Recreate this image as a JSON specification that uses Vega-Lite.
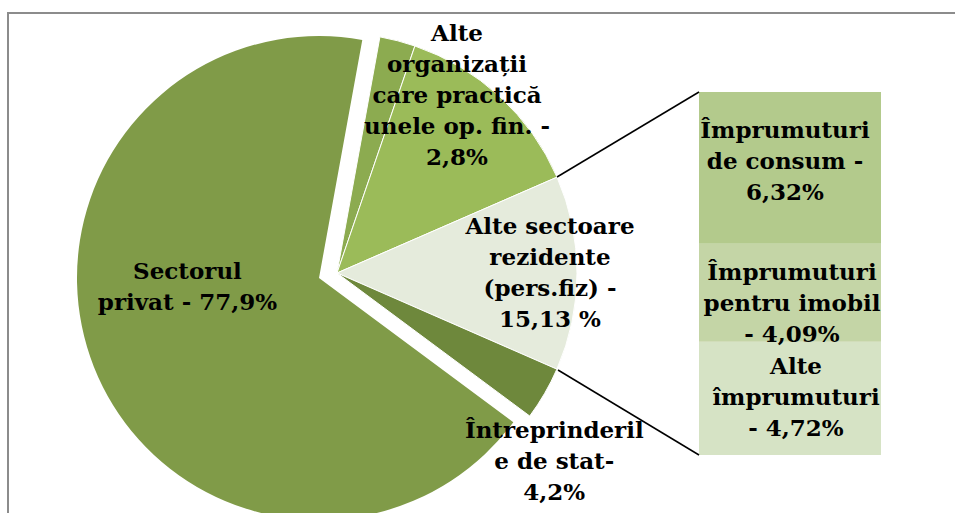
{
  "$schema": "https://vega.github.io/schema/vega-lite/v6.json",
  "width": 1000,
  "height": 550,
  "autosize": {"type": "none"},
  "padding": {"left": 8, "top": 13, "right": -53, "bottom": -50},
  "background": "white",
  "config": {
    "view": {"stroke": "#8c8c8c", "strokeWidth": 2},
    "text": {"font": "DejaVu Serif"}
  },
  "datasets": {
    "pie": [
      {"k": 1, "sector": "Alte organizații care practică unele op. fin.", "pondere": 2.4, "label": "Alte\norganizații\ncare practică\nunele op. fin. -\n2,8%"},
      {"k": 2, "sector": "Alte organizații (rest)", "pondere": 13.2, "label": ""},
      {"k": 3, "sector": "Alte sectoare rezidente (pers.fiz)", "pondere": 13.1, "label": "Alte sectoare\nrezidente\n(pers.fiz) -\n15,13 %"},
      {"k": 4, "sector": "Întreprinderile de stat", "pondere": 3.6, "label": "Întreprinderil\ne de stat-\n4,2%"},
      {"k": 5, "sector": "Sectorul privat", "pondere": 67.7, "label": "Sectorul\nprivat - 77,9%"}
    ],
    "bar": [
      {"k": 1, "grup": "Alte sectoare rezidente (pers.fiz)", "tip": "Alte împrumuturi", "valoare": 4.72, "label": "Alte\nîmprumuturi\n- 4,72%"},
      {"k": 2, "grup": "Alte sectoare rezidente (pers.fiz)", "tip": "Împrumuturi pentru imobil", "valoare": 4.09, "label": "Împrumuturi\npentru imobil\n- 4,09%"},
      {"k": 3, "grup": "Alte sectoare rezidente (pers.fiz)", "tip": "Împrumuturi de consum", "valoare": 6.32, "label": "Împrumuturi\nde consum -\n6,32%"}
    ],
    "conn": [
      {"grup": "Alte sectoare rezidente (pers.fiz)", "capat": 15.13},
      {"grup": "Alte sectoare rezidente (pers.fiz)", "capat": 0}
    ]
  },
  "resolve": {"scale": {"color": "independent"}},
  "layer": [
    {
      "data": {"name": "pie"},
      "mark": {"type": "arc", "outerRadius": 242, "x": 311, "y": 265},
      "encoding": {
        "theta": {"field": "pondere", "type": "quantitative", "stack": true, "scale": {"range": [0.1798, 6.463]}},
        "order": {"field": "k", "type": "quantitative"},
        "color": {"field": "sector", "type": "nominal", "legend": null,
          "scale": {"domain": ["Alte organizații care practică unele op. fin.", "Alte organizații (rest)", "Alte sectoare rezidente (pers.fiz)", "Întreprinderile de stat", "Sectorul privat"],
                    "range": ["#8cab50", "#9bbb59", "#e5ebdc", "#6e883c", "#809b48"]}},
        "opacity": {"condition": {"test": "datum.k === 5", "value": 1}, "value": 0}
      }
    },
    {
      "data": {"name": "pie"},
      "mark": {"type": "arc", "outerRadius": 240, "x": 329, "y": 260, "stroke": "white", "strokeWidth": 1},
      "encoding": {
        "theta": {"field": "pondere", "type": "quantitative", "stack": true, "scale": {"range": [0.1798, 6.463]}},
        "order": {"field": "k", "type": "quantitative"},
        "color": {"field": "sector", "type": "nominal", "legend": null,
          "scale": {"domain": ["Alte organizații care practică unele op. fin.", "Alte organizații (rest)", "Alte sectoare rezidente (pers.fiz)", "Întreprinderile de stat", "Sectorul privat"],
                    "range": ["#8cab50", "#9bbb59", "#e5ebdc", "#6e883c", "#809b48"]}},
        "opacity": {"condition": {"test": "datum.k !== 5", "value": 1}, "value": 0}
      }
    },
    {
      "data": {"name": "pie"},
      "mark": {"type": "text", "x": 311, "y": 265, "radius": 135, "dx": -6, "dy": -56, "fontSize": 23, "fontWeight": "bold", "lineBreak": "\n", "lineHeight": 31, "align": "center", "baseline": "middle", "color": "black"},
      "encoding": {
        "theta": {"field": "pondere", "type": "quantitative", "stack": true},
        "order": {"field": "k", "type": "quantitative"},
        "text": {"condition": {"test": "datum.k === 5", "field": "label", "type": "nominal"}, "value": ""}
      }
    },
    {
      "data": {"name": "pie"},
      "mark": {"type": "text", "x": 329, "y": 260, "radius": 210, "dx": 67, "dy": -36, "fontSize": 23, "fontWeight": "bold", "lineBreak": "\n", "lineHeight": 31, "align": "center", "baseline": "middle", "color": "black"},
      "encoding": {
        "theta": {"field": "pondere", "type": "quantitative", "stack": true},
        "order": {"field": "k", "type": "quantitative"},
        "text": {"condition": {"test": "datum.k === 1", "field": "label", "type": "nominal"}, "value": ""}
      }
    },
    {
      "data": {"name": "pie"},
      "mark": {"type": "text", "x": 329, "y": 260, "radius": 213, "dx": 0, "dy": -46, "fontSize": 23, "fontWeight": "bold", "lineBreak": "\n", "lineHeight": 31, "align": "center", "baseline": "middle", "color": "black"},
      "encoding": {
        "theta": {"field": "pondere", "type": "quantitative", "stack": true},
        "order": {"field": "k", "type": "quantitative"},
        "text": {"condition": {"test": "datum.k === 3", "field": "label", "type": "nominal"}, "value": ""}
      }
    },
    {
      "data": {"name": "pie"},
      "mark": {"type": "text", "x": 329, "y": 260, "radius": 250, "dx": 1, "dy": 33, "fontSize": 23, "fontWeight": "bold", "lineBreak": "\n", "lineHeight": 31, "align": "center", "baseline": "middle", "color": "black"},
      "encoding": {
        "theta": {"field": "pondere", "type": "quantitative", "stack": true},
        "order": {"field": "k", "type": "quantitative"},
        "text": {"condition": {"test": "datum.k === 4", "field": "label", "type": "nominal"}, "value": ""}
      }
    },
    {
      "data": {"name": "bar"},
      "mark": {"type": "bar"},
      "encoding": {
        "x": {"field": "grup", "type": "nominal", "axis": null, "scale": {"range": [691, 873], "paddingInner": 0, "paddingOuter": 0}},
        "y": {"field": "valoare", "type": "quantitative", "stack": "zero", "axis": null, "scale": {"domain": [0, 15.13], "range": [442, 79], "nice": false}},
        "order": {"field": "k", "type": "quantitative"},
        "color": {"field": "tip", "type": "nominal", "legend": null,
          "scale": {"domain": ["Alte împrumuturi", "Împrumuturi pentru imobil", "Împrumuturi de consum"], "range": ["#d6e3c5", "#c4d5a6", "#b3ca8c"]}}
      }
    },
    {
      "data": {"name": "bar"},
      "mark": {"type": "text", "dx": -5, "dy": -37, "fontSize": 23, "fontWeight": "bold", "lineBreak": "\n", "lineHeight": 31, "align": "center", "baseline": "middle", "color": "black"},
      "encoding": {
        "x": {"field": "grup", "type": "nominal", "axis": null},
        "y": {"field": "valoare", "type": "quantitative", "stack": "zero", "bandPosition": 0.5, "axis": null},
        "order": {"field": "k", "type": "quantitative"},
        "text": {"condition": {"test": "datum.k === 3", "field": "label", "type": "nominal"}, "value": ""}
      }
    },
    {
      "data": {"name": "bar"},
      "mark": {"type": "text", "dx": 2, "dy": -20, "fontSize": 23, "fontWeight": "bold", "lineBreak": "\n", "lineHeight": 31, "align": "center", "baseline": "middle", "color": "black"},
      "encoding": {
        "x": {"field": "grup", "type": "nominal", "axis": null},
        "y": {"field": "valoare", "type": "quantitative", "stack": "zero", "bandPosition": 0.5, "axis": null},
        "order": {"field": "k", "type": "quantitative"},
        "text": {"condition": {"test": "datum.k === 2", "field": "label", "type": "nominal"}, "value": ""}
      }
    },
    {
      "data": {"name": "bar"},
      "mark": {"type": "text", "dx": 6, "dy": -31, "fontSize": 23, "fontWeight": "bold", "lineBreak": "\n", "lineHeight": 31, "align": "center", "baseline": "middle", "color": "black"},
      "encoding": {
        "x": {"field": "grup", "type": "nominal", "axis": null},
        "y": {"field": "valoare", "type": "quantitative", "stack": "zero", "bandPosition": 0.5, "axis": null},
        "order": {"field": "k", "type": "quantitative"},
        "text": {"condition": {"test": "datum.k === 1", "field": "label", "type": "nominal"}, "value": ""}
      }
    },
    {
      "data": {"name": "conn"},
      "transform": [{"filter": "datum.capat > 0"}],
      "mark": {"type": "rule", "color": "black", "strokeWidth": 1.5},
      "encoding": {
        "x": {"field": "grup", "type": "nominal", "bandPosition": 0, "axis": null},
        "y": {"field": "capat", "type": "quantitative", "axis": null},
        "x2": {"value": 549},
        "y2": {"value": 164}
      }
    },
    {
      "data": {"name": "conn"},
      "transform": [{"filter": "datum.capat === 0"}],
      "mark": {"type": "rule", "color": "black", "strokeWidth": 1.5},
      "encoding": {
        "x": {"field": "grup", "type": "nominal", "bandPosition": 0, "axis": null},
        "y": {"field": "capat", "type": "quantitative", "axis": null},
        "x2": {"value": 550},
        "y2": {"value": 357}
      }
    }
  ]
}
